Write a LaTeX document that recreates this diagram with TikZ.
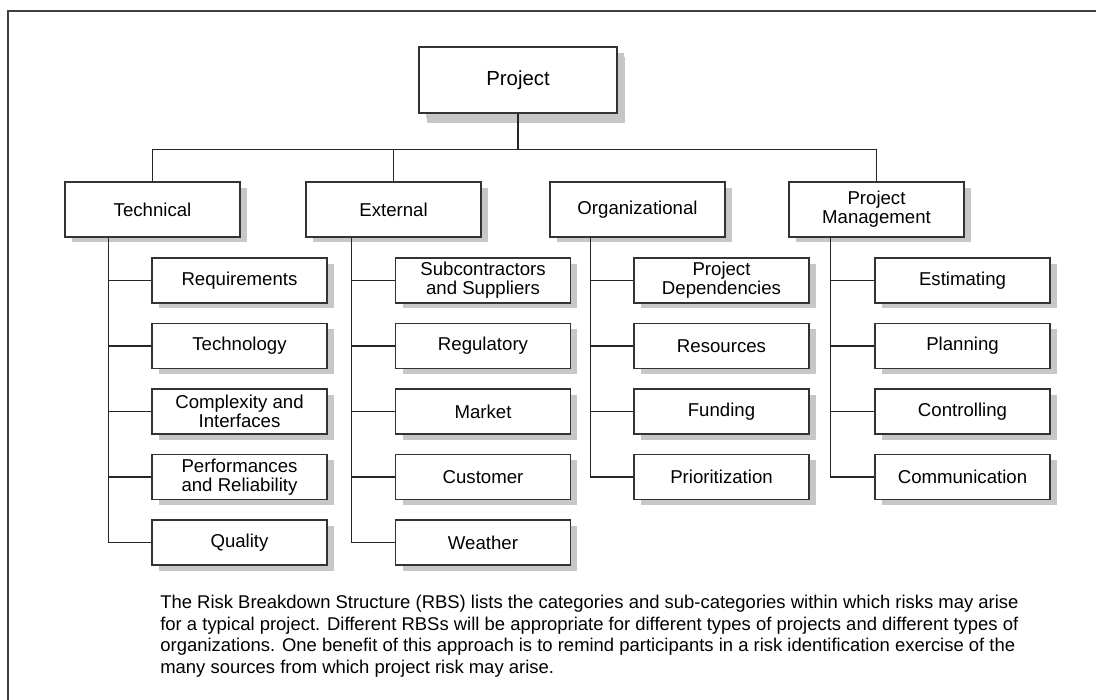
\documentclass[tikz,border=0pt]{standalone}
\usepackage{fontspec}
\setmainfont{Liberation Sans}
\usetikzlibrary{shadows,positioning,calc}

\begin{document}
\begin{tikzpicture}[
  x=0.02cm,y=-0.02cm,
  every node/.style={font=\fontsize{10.6}{11}\selectfont},
  box/.style={draw=black!80,fill=white,line width=0.6pt,align=center,inner sep=1pt,
    drop shadow={shadow xshift=0.14cm,shadow yshift=-0.11cm,fill=black!22,opacity=1}},
  topbox/.style={box,minimum width=3.96cm,minimum height=1.32cm,font=\fontsize{11.6}{12}\selectfont,
    drop shadow={shadow xshift=0.16cm,shadow yshift=-0.2cm,fill=black!22,opacity=1}},
  cat/.style={box,minimum width=3.5cm,minimum height=1.1cm},
  sub/.style={box,minimum width=3.5cm,minimum height=0.9cm},
  link/.style={draw=black!85,line width=0.6pt}
]
\useasboundingbox (0,0) rectangle (1096,700);
% frame
\draw[black!75,line width=1pt] (1096,11) -- (8,11) -- (8,700);

% root and categories
\node[topbox] (proj) at (518,80) {Project};
\node[cat] (tech) at (152.5,209.5) {Technical};
\node[cat] (ext) at (393.5,209.5) {External};
\node[cat] (org) at (637.5,209.5) {Organizational};
\node[cat] (pm) at (876.5,209.5) {Project\\Management};

\coordinate (bar) at ($(proj.south)+(0,36)$);
\draw[link] (proj.south) -- (bar);
\draw[link] (tech.north) |- (bar) -| (pm.north);
\draw[link] (ext.north) -- (ext.north |- bar);
\draw[link] ($(org.north)+(-3.5,0)$) -- (org.north -| 634,0 |- bar);

% sub-categories
\foreach \lbl [count=\i] in {Requirements,Technology,{Complexity and\\Interfaces},
    {Performances\\and Reliability},Quality}
  \node[sub] (t\i) at (239.5,{280.5+65.5*(\i-1)}) {\lbl};
\foreach \lbl [count=\i] in {{Subcontractors\\and Suppliers},Regulatory,Market,Customer,Weather}
  \node[sub] (e\i) at (483,{280.5+65.5*(\i-1)}) {\lbl};
\foreach \lbl [count=\i] in {{Project\\Dependencies},Resources,Funding,Prioritization}
  \node[sub] (o\i) at (721.5,{280.5+65.5*(\i-1)}) {\lbl};
\foreach \lbl [count=\i] in {Estimating,Planning,Controlling,Communication}
  \node[sub] (m\i) at (962.5,{280.5+65.5*(\i-1)}) {\lbl};

% trunks
\coordinate (ttr) at ($(tech.south west)+(44,0)$);
\coordinate (etr) at ($(ext.south west)+(46,0)$);
\coordinate (otr) at ($(org.south west)+(41,0)$);
\coordinate (mtr) at ($(pm.south west)+(42,0)$);
\foreach \i in {1,...,5} \draw[link] (ttr) |- (t\i.west);
\foreach \i in {1,...,5} \draw[link] (etr) |- (e\i.west);
\foreach \i in {1,...,4} \draw[link] (otr) |- (o\i.west);
\foreach \i in {1,...,4} \draw[link] (mtr) |- (m\i.west);

% caption
\node[anchor=north west,align=left,inner sep=0pt,font=\fontsize{10.5}{12.2}\selectfont] (note) at (160,595)
  {The Risk Breakdown Structure (RBS) lists the categories and sub-categories within which risks may arise\\
   for a typical project. Different RBSs will be appropriate for different types of projects and different types of\\
   organizations. One benefit of this approach is to remind participants in a risk identification exercise of the\\
   many sources from which project risk may arise.};
\end{tikzpicture}
\end{document}
